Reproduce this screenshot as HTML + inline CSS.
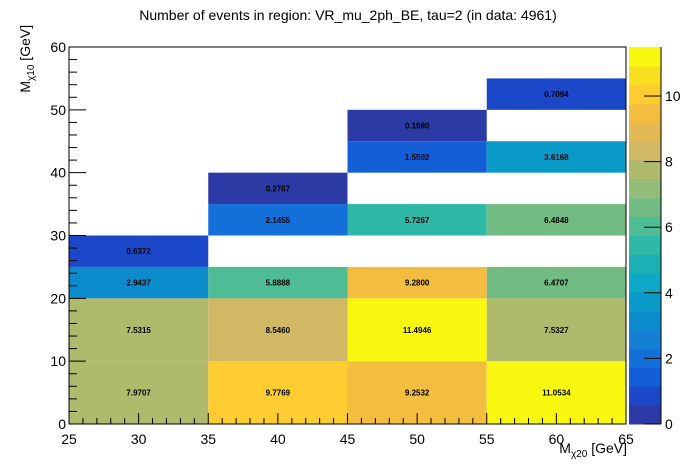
<!DOCTYPE html>
<html><head><meta charset="utf-8"><style>
body{margin:0;background:#fff;}
svg{display:block;font-family:"Liberation Sans",sans-serif;}
</style></head><body>
<svg id="c" width="696" height="472">
<text x="348" y="20" text-anchor="middle" font-size="14">Number of events in region: VR_mu_2ph_BE, tau=2 (in data: 4961)</text>
<g id="cells"></g><g id="axes"></g>
</svg>
<script>
const xLo=[25,25,25,25,35,35,35,35,35,45,45,45,45,45,45,55,55,55,55,55,55];
const yLo=[0,10,20,25,0,10,20,30,35,0,10,20,30,40,45,0,10,20,30,40,50];
const xHi=[35,35,35,35,45,45,45,45,45,55,55,55,55,55,55,65,65,65,65,65,65];
const yHi=[10,20,25,30,10,20,25,35,40,10,20,25,35,45,50,10,20,25,35,45,55];
const vals=[7.9707,7.5315,2.9437,0.6372,9.7769,8.5460,5.8888,2.1455,0.2767,9.2532,11.4946,9.2800,5.7267,1.5502,0.1980,11.0534,7.5327,6.4707,6.4848,3.6168,0.7094];
const palette=["#2b3aa5","#1a48c8","#125fd8","#1270d8","#1580d3","#0d8ccd","#0a9ac8","#0ea8c4","#1cb0b4","#2eb8a5","#4ebc94","#72bc84","#92bc78","#afba6c","#d0b865","#e2b952","#f3be40","#fccc30","#f8e020","#f8f710"];
const xTicks=[25,30,35,40,45,50,55,60,65];
const yTicks=[0,10,20,30,40,50,60];
const zTicks=[0,2,4,6,8,10];
const zMax=11.4946;
const X0=69,X1=626,Y0=424,Y1=47;
const sx=v=>X0+(v-25)/40*(X1-X0);
const sy=v=>Y0-v/60*(Y0-Y1);
const CB0=629,CB1=661;
const sz=v=>Y0-v/zMax*(Y0-Y1);
const NS="http://www.w3.org/2000/svg";
function mk(t,a,p){const e=document.createElementNS(NS,t);for(const k in a)e.setAttribute(k,a[k]);p.appendChild(e);return e;}
const cells=document.getElementById('cells'),axes=document.getElementById('axes');
function col(v){let i=Math.floor(v/zMax*palette.length);return palette[Math.min(palette.length-1,Math.max(0,i))];}
for(let i=0;i<vals.length;i++){
 const r=mk('rect',{x:sx(xLo[i]),y:sy(yHi[i]),width:sx(xHi[i])-sx(xLo[i]),height:sy(yLo[i])-sy(yHi[i]),fill:col(vals[i])},cells);
 
 
 const t=mk('text',{x:(sx(xLo[i])+sx(xHi[i]))/2,y:(sy(yLo[i])+sy(yHi[i]))/2+3,'text-anchor':'middle','font-size':'8','font-weight':'bold'},cells);
 t.textContent=vals[i].toFixed(4);
 
 
}
const fr=mk('rect',{x:X0,y:Y1,width:X1-X0,height:Y0-Y1,fill:'none',stroke:'#000','stroke-width':1},axes);


for(let v=25;v<=65;v++){const maj=v%5===0;mk('line',{x1:sx(v),x2:sx(v),y1:Y0,y2:Y0-(maj?11:6),stroke:'#000'},axes);}
for(let v=0;v<=60;v+=2){const maj=v%10===0;mk('line',{x1:X0,x2:X0+(maj?17:8),y1:sy(v),y2:sy(v),stroke:'#000'},axes);}
xTicks.forEach(v=>{const t=mk('text',{x:sx(v),y:Y0+20,'text-anchor':'middle','font-size':'14'},axes);t.textContent=v;
 
 });
yTicks.forEach(v=>{const t=mk('text',{x:X0-3,y:sy(v)+5,'text-anchor':'end','font-size':'14'},axes);t.textContent=v;
 
 });
palette.forEach((c,i)=>{const r=mk('rect',{x:CB0,y:sz((i+1)*zMax/palette.length),width:CB1-CB0,height:sz(i*zMax/palette.length)-sz((i+1)*zMax/palette.length)+0.5,fill:c},axes);
 
 });
zTicks.forEach(v=>{mk('line',{x1:CB1-17,x2:CB1,y1:sz(v),y2:sz(v),stroke:'#000'},axes);
 const t=mk('text',{x:CB1+4,y:sz(v)+5,'font-size':'14'},axes);t.textContent=v;
 
 });
mk('line',{x1:CB1,x2:CB1,y1:Y1,y2:Y0,stroke:'#000'},axes);
</script>
<div style="position:absolute;left:0;top:0;width:696px;height:472px;pointer-events:none;font-family:'Liberation Sans',sans-serif;">
<div style="position:absolute;right:69px;top:440px;font-size:14px;">M<sub style="font-size:10px;">χ20</sub> [GeV]</div>
<div style="position:absolute;left:-28px;top:70px;width:110px;font-size:14px;transform:rotate(-90deg);text-align:right;">M<sub style="font-size:10px;">χ10</sub> [GeV]</div>
</div>
</body></html>
